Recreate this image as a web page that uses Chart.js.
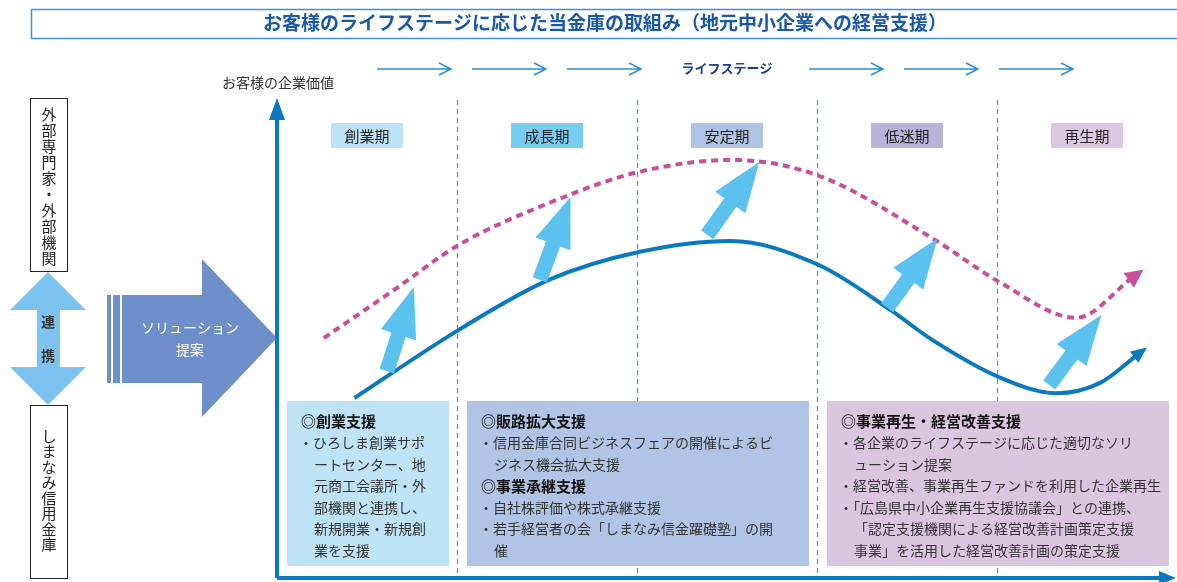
<!DOCTYPE html>
<html lang="ja">
<head>
<meta charset="UTF-8">
<title>お客様のライフステージに応じた当金庫の取組み</title>
<script src="https://cdn.jsdelivr.net/npm/chart.js"></script>
<style>
    html, body { margin: 0; padding: 0; background: #fff; overflow: hidden; }
    #wrap { width: 1177px; height: 582px; }
</style>
</head>
<body>
<div id="wrap"><canvas id="lifeChart" width="1177" height="582"></canvas></div>
<script>
// ---- data ----
const titleText = 'お客様のライフステージに応じた当金庫の取組み（地元中小企業への経営支援）';
const yTitle = 'お客様の企業価値';
const xTitle = 'ライフステージ';
const stages = ['創業期', '成長期', '安定期', '低迷期', '再生期'];
const stageEdges = [1, 2, 3, 4];

// 現在の企業価値（実線）
const nowX = [0.43, 1.01, 1.51, 2.01, 2.52, 3.01, 3.41, 3.64, 4.02, 4.33, 4.57, 4.78];
const nowY = [37.5, 51.7, 62.1, 67.9, 70.2, 65.2, 55.8, 49.6, 41.7, 38.5, 40.6, 46.5];

// 支援後の企業価値（点線）
const upX = [0.26, 0.65, 1.01, 1.51, 2.01, 2.53, 3.01, 3.64, 4.02, 4.44, 4.75];
const upY = [50.0, 60.0, 69.4, 78.1, 84.6, 87.1, 83.8, 70.8, 61.5, 54.2, 62.5];

// ソリューションによる押し上げ矢印
const liftFromX = [0.61, 1.46, 2.39, 3.39, 4.29];
const liftFromY = [43.1, 62.1, 71.5, 56.3, 40.2];
const liftToX = [0.76, 1.63, 2.68, 3.67, 4.58];
const liftToY = [60.6, 79.4, 86.7, 70.8, 54.8];

// 支援メニュー（対象ステージの範囲）
const supportSpan = [[0, 1], [1, 3], [3, 5]];
const supportText = [
    ['◎創業支援', '・ひろしま創業サポ', 'ートセンター、地', '元商工会議所・外', '部機関と連携し、', '新規開業・新規創', '業を支援'],
    ['◎販路拡大支援', '・信用金庫合同ビジネスフェアの開催によるビ', 'ジネス機会拡大支援', '◎事業承継支援', '・自社株評価や株式承継支援', '・若手経営者の会「しまなみ信金躍礎塾」の開', '催'],
    ['◎事業再生・経営改善支援', '・各企業のライフステージに応じた適切なソリ', 'ューション提案', '・経営改善、事業再生ファンドを利用した企業再生', '・「広島県中小企業再生支援協議会」との連携、', '「認定支援機関による経営改善計画策定支援', '事業」を活用した経営改善計画の策定支援']
];

const outsideLabel = '外部専門家・外部機関';
const bankLabel = 'しまなみ信用金庫';
const linkLabel = ['連', '携'];
const solutionLabel = ['ソリューション', '提案'];

// ---- styles ----
const FONT = "'Noto Sans CJK JP', 'Noto Sans', sans-serif";
const stageColors = ['#bee3f7', '#76cdf1', '#afc3e5', '#b9b3da', '#dcc8e4'];
const boxColors = ['#bee3f7', '#b0c4e5', '#dcc5e1'];
const AXIS = '#0b79c0';

function arrowPoly(ctx, x0, y0, x1, y1, shaft, head, headLen) {
    const dx = x1 - x0, dy = y1 - y0, len = Math.hypot(dx, dy);
    const ux = dx / len, uy = dy / len, nx = -uy, ny = ux;
    const hx = x1 - ux * headLen, hy = y1 - uy * headLen;
    ctx.beginPath();
    ctx.moveTo(x0 + nx * shaft, y0 + ny * shaft);
    ctx.lineTo(hx + nx * shaft, hy + ny * shaft);
    ctx.lineTo(hx + nx * head, hy + ny * head);
    ctx.lineTo(x1, y1);
    ctx.lineTo(hx - nx * head, hy - ny * head);
    ctx.lineTo(hx - nx * shaft, hy - ny * shaft);
    ctx.lineTo(x0 - nx * shaft, y0 - ny * shaft);
    ctx.closePath();
    ctx.fill();
}

function vText(ctx, chars, x, y0, step) {
    [...chars].forEach((c, i) => ctx.fillText(c, x, y0 + i * step));
}

const artwork = {
    id: 'artwork',
    beforeDatasetsDraw(chart) {
        const { ctx, chartArea: a, scales: { x, y } } = chart;
        ctx.save();

        // title
        ctx.strokeStyle = '#3f90d8';
        ctx.lineWidth = 1.5;
        ctx.strokeRect(31.5, 9.5, 1170, 29);
        ctx.fillStyle = '#1b58aa';
        ctx.font = 'bold 19px ' + FONT;
        ctx.textAlign = 'center';
        ctx.textBaseline = 'middle';
        ctx.fillText(titleText, 605, 23, 726);

        // life stage arrows on top
        ctx.strokeStyle = '#2f8fd2';
        ctx.lineWidth = 1.5;
        const starts = [377, 472, 567, 809, 904, 999];
        starts.forEach(s => {
            ctx.beginPath();
            ctx.moveTo(s, 69); ctx.lineTo(s + 74, 69);
            ctx.moveTo(s + 62, 63); ctx.lineTo(s + 74, 69); ctx.lineTo(s + 62, 75);
            ctx.stroke();
        });
        ctx.fillStyle = '#1d3e8e';
        ctx.font = 'bold 13px ' + FONT;
        ctx.fillText(xTitle, 727, 68);

        // y axis title
        ctx.fillStyle = '#333';
        ctx.font = '14px ' + FONT;
        ctx.fillText(yTitle, 278, 83);

        // stage separators
        ctx.strokeStyle = '#3b96d6';
        ctx.lineWidth = 1.2;
        ctx.setLineDash([5, 4]);
        stageEdges.forEach(e => {
            const px = Math.round(x.getPixelForValue(e)) + 0.5;
            ctx.beginPath();
            ctx.moveTo(px, a.top + 2);
            ctx.lineTo(px, a.bottom);
            ctx.stroke();
        });
        ctx.setLineDash([]);

        // stage labels
        ctx.font = '15px ' + FONT;
        stages.forEach((s, i) => {
            const cx = x.getPixelForValue(i + 0.5);
            ctx.fillStyle = stageColors[i];
            ctx.fillRect(cx - 36, 123, 72, 25);
            ctx.fillStyle = '#222';
            ctx.fillText(s, cx, 136);
        });

        // support boxes
        supportSpan.forEach((sp, i) => {
            const left = x.getPixelForValue(sp[0]) + 10;
            const right = x.getPixelForValue(sp[1]) - 8;
            ctx.fillStyle = boxColors[i];
            ctx.fillRect(left, 401, right - left, 165);
            ctx.textAlign = 'left';
            supportText[i].forEach((line, j) => {
                const ty = 421 + j * 21.6;
                let tx = left + 14;
                if (line[0] === '◎') {
                    ctx.font = 'bold 15px ' + FONT;
                    ctx.fillStyle = '#111';
                } else {
                    ctx.font = '14px ' + FONT;
                    ctx.fillStyle = '#333';
                    if (line[0] !== '・') tx += 13;
                    else tx -= 2;
                }
                ctx.fillText(line, tx, ty, right - tx - 4);
            });
        });
        ctx.textAlign = 'center';

        // left column: outside experts / bank
        ctx.strokeStyle = '#222';
        ctx.lineWidth = 1;
        ctx.strokeRect(30.5, 98.5, 37, 173);
        ctx.strokeRect(30.5, 405.5, 37, 173);
        ctx.fillStyle = '#222';
        ctx.font = '15px ' + FONT;
        vText(ctx, outsideLabel, 49, 114, 16);
        vText(ctx, bankLabel, 49, 436, 15.5);

        // link double arrow
        ctx.fillStyle = '#7cc3ef';
        ctx.beginPath();
        ctx.moveTo(48, 272); ctx.lineTo(86, 310); ctx.lineTo(60, 310);
        ctx.lineTo(60, 367); ctx.lineTo(86, 367); ctx.lineTo(48, 405);
        ctx.lineTo(10, 367); ctx.lineTo(37, 367); ctx.lineTo(37, 310);
        ctx.lineTo(10, 310); ctx.closePath();
        ctx.fill();
        ctx.fillStyle = '#333';
        ctx.font = 'bold 14px ' + FONT;
        ctx.fillText(linkLabel[0], 48, 322);
        ctx.fillText(linkLabel[1], 48, 356);

        // solution arrow
        ctx.fillStyle = '#6f8fcb';
        ctx.fillRect(107, 295, 4, 88);
        ctx.fillRect(113, 295, 7, 88);
        ctx.beginPath();
        ctx.moveTo(122, 295); ctx.lineTo(202, 295); ctx.lineTo(202, 259);
        ctx.lineTo(277, 338); ctx.lineTo(202, 417); ctx.lineTo(202, 383);
        ctx.lineTo(122, 383); ctx.closePath();
        ctx.fill();
        ctx.fillStyle = '#fff';
        ctx.font = '14px ' + FONT;
        ctx.fillText(solutionLabel[0], 190, 328);
        ctx.fillText(solutionLabel[1], 190, 350);

        // axes
        const ox = x.getPixelForValue(0);
        ctx.strokeStyle = AXIS;
        ctx.fillStyle = AXIS;
        ctx.lineWidth = 4;
        ctx.beginPath();
        ctx.moveTo(ox, a.bottom); ctx.lineTo(ox, a.top + 18);
        ctx.moveTo(ox, a.bottom); ctx.lineTo(a.right - 14, a.bottom);
        ctx.stroke();
        ctx.beginPath();
        ctx.moveTo(ox, a.top); ctx.lineTo(ox + 8, a.top + 22); ctx.lineTo(ox - 8, a.top + 22);
        ctx.closePath(); ctx.fill();
        ctx.beginPath();
        ctx.moveTo(a.right - 1, a.bottom); ctx.lineTo(a.right - 18, a.bottom - 7); ctx.lineTo(a.right - 18, a.bottom + 7);
        ctx.closePath(); ctx.fill();

        ctx.restore();
    },
    afterDatasetsDraw(chart) {
        const { ctx, scales: { x, y } } = chart;
        ctx.save();
        // arrowheads at the ends of the curves
        [[0, '#0b79c0', 16, 7], [1, '#c8509a', 18, 9]].forEach(([di, col, len, hw]) => {
            const pts = chart.getDatasetMeta(di).data;
            const p = pts[pts.length - 1];
            const q = pts[pts.length - 2];
            let dx = p.x - (p.cp1x ?? q.x), dy = p.y - (p.cp1y ?? q.y);
            const l = Math.hypot(dx, dy); dx /= l; dy /= l;
            const tx = p.x + dx * (len - 4), ty = p.y + dy * (len - 4);
            const bx = tx - dx * len, by = ty - dy * len;
            ctx.fillStyle = col;
            ctx.beginPath();
            ctx.moveTo(tx, ty);
            ctx.lineTo(bx - dy * hw, by + dx * hw);
            ctx.lineTo(bx + dy * hw, by - dx * hw);
            ctx.closePath();
            ctx.fill();
        });
        // lift arrows
        ctx.fillStyle = '#5bc1ef';
        liftFromX.forEach((v, i) => {
            arrowPoly(ctx,
                x.getPixelForValue(v), y.getPixelForValue(liftFromY[i]),
                x.getPixelForValue(liftToX[i]), y.getPixelForValue(liftToY[i]),
                7.5, 18.5, 50);
        });
        ctx.restore();
    }
};

const toPoints = (xs, ys) => xs.map((v, i) => ({ x: v, y: ys[i] }));

new Chart(document.getElementById('lifeChart'), {
    type: 'line',
    data: {
        datasets: [
            {
                label: '現在の企業価値',
                data: toPoints(nowX, nowY),
                borderColor: '#0b79c0',
                borderWidth: 4,
                pointRadius: 0,
                cubicInterpolationMode: 'monotone',
                fill: false
            },
            {
                label: '支援後の企業価値',
                data: toPoints(upX, upY),
                borderColor: '#c8509a',
                borderWidth: 4,
                borderDash: [7, 5],
                pointRadius: 0,
                cubicInterpolationMode: 'monotone',
                fill: false
            }
        ]
    },
    options: {
        responsive: false,
        animation: false,
        layout: { padding: { left: 277, top: 98, right: 0, bottom: 4 } },
        plugins: { legend: { display: false }, tooltip: { enabled: false } },
        scales: {
            x: { type: 'linear', min: 0, max: 5, display: false },
            y: { type: 'linear', min: 0, max: 100, display: false }
        }
    },
    plugins: [artwork]
});
</script>
</body>
</html>
